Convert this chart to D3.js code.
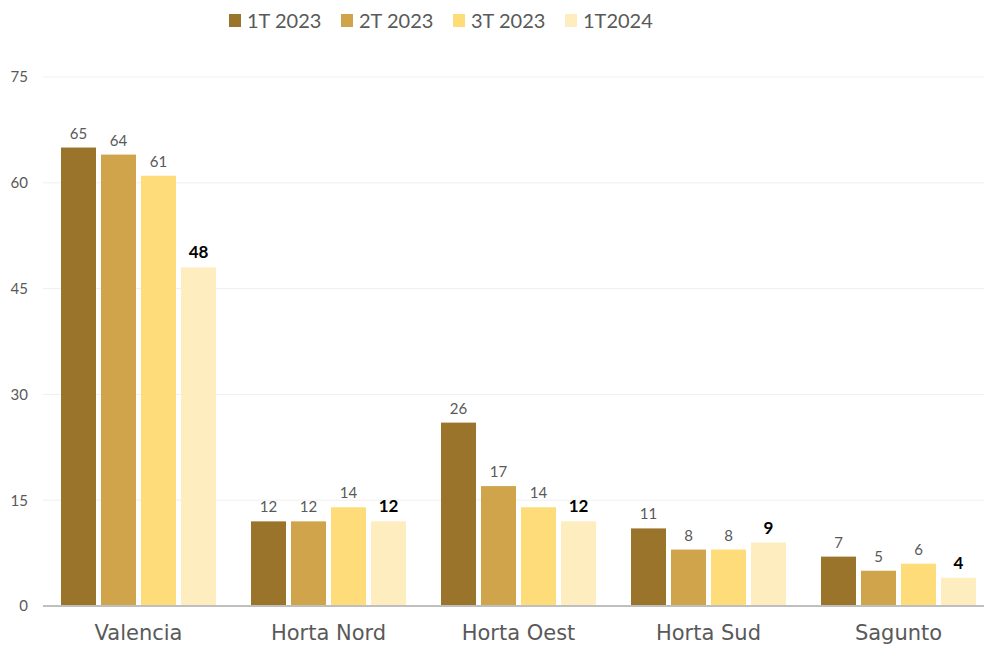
<!DOCTYPE html>
<html>
<head>
<meta charset="utf-8">
<script src="https://cdn.jsdelivr.net/npm/d3@7"></script>
<style>
  body { margin: 0; background: #fff; }
  svg { display: block; font-family: "Lato", "DejaVu Sans", sans-serif; }
</style>
</head>
<body>
<div id="chart"></div>
<script>
// Data
const categories = ["Valencia", "Horta Nord", "Horta Oest", "Horta Sud", "Sagunto"];
const seriesNames = ["1T 2023", "2T 2023", "3T 2023", "1T2024"];
const s1T2023 = [65, 12, 26, 11, 7];
const s2T2023 = [64, 12, 17, 8, 5];
const s3T2023 = [61, 14, 14, 8, 6];
const s1T2024 = [48, 12, 12, 9, 4];
const yTicks = [0, 15, 30, 45, 60, 75];

const seriesValues = [s1T2023, s2T2023, s3T2023, s1T2024];
const colors = ["#9b742c", "#cfa44b", "#fedc7a", "#feedbe"];

const width = 984, height = 646;
const margin = { top: 77, bottom: 40, left: 43.5, right: -9.5 };

const svg = d3.select("#chart").append("svg")
  .attr("width", width)
  .attr("height", height);

const x0 = d3.scaleBand()
  .domain(categories)
  .range([margin.left, width - margin.right])
  .paddingInner(0)
  .paddingOuter(0);

const x1 = d3.scaleBand()
  .domain(seriesNames)
  .range([17.5, 190 - 17.5])
  .paddingInner(5 / 40)
  .paddingOuter(0);

const y = d3.scaleLinear().domain([0, 75]).range([606, 77]);

// Gridlines
svg.append("g")
  .selectAll("line")
  .data(yTicks.filter(t => t > 0))
  .join("line")
  .attr("x1", 43)
  .attr("x2", width)
  .attr("y1", d => y(d))
  .attr("y2", d => y(d))
  .attr("stroke", "#efefef")
  .attr("stroke-width", 1);

// Y axis labels
const yAxis = svg.append("g")
  .attr("transform", "translate(28,0)")
  .call(d3.axisLeft(y).tickValues(yTicks).tickSize(0).tickPadding(0));
yAxis.select(".domain").remove();
yAxis.selectAll("text")
  .attr("fill", "#595959")
  .style("font-size", "15px")
  .style("font-family", "Lato, 'DejaVu Sans', sans-serif");

// Bars
const groups = svg.append("g")
  .selectAll("g")
  .data(categories)
  .join("g")
  .attr("transform", d => `translate(${x0(d)},0)`);

groups.each(function (cat, ci) {
  const g = d3.select(this);
  seriesNames.forEach((s, si) => {
    const v = seriesValues[si][ci];
    g.append("rect")
      .attr("x", x1(s))
      .attr("y", y(v))
      .attr("width", x1.bandwidth())
      .attr("height", y(0) - y(v))
      .attr("fill", colors[si]);
    const last = si === seriesNames.length - 1;
    g.append("text")
      .attr("x", x1(s) + x1.bandwidth() / 2)
      .attr("y", y(v) - 9)
      .attr("text-anchor", "middle")
      .attr("fill", last ? "#000" : "#595959")
      .style("font-size", last ? "17px" : "15px")
      .style("font-weight", last ? "bold" : "normal")
      .text(v);
  });
});

// Baseline
svg.append("line")
  .attr("x1", 43)
  .attr("x2", width)
  .attr("y1", y(0))
  .attr("y2", y(0))
  .attr("stroke", "#bfbfbf")
  .attr("stroke-width", 2);

// X axis labels (wide geometric look)
const xAxis = svg.append("g")
  .attr("transform", `translate(0,${y(0)})`)
  .call(d3.axisBottom(x0).tickSize(0));
xAxis.select(".domain").remove();
xAxis.selectAll("text")
  .attr("y", 34)
  .attr("dy", 0)
  .attr("fill", "#595959")
  .style("font-size", "21px")
  .style("font-family", "'DejaVu Sans', sans-serif");

// Legend
const legendX = [229, 341, 453, 565];
const legend = svg.append("g")
  .selectAll("g")
  .data(seriesNames)
  .join("g")
  .attr("transform", (d, i) => `translate(${legendX[i]},0)`);
legend.append("rect")
  .attr("x", 0)
  .attr("y", 14)
  .attr("width", 12)
  .attr("height", 13)
  .attr("fill", (d, i) => colors[i]);
legend.append("text")
  .attr("x", 18)
  .attr("y", 21)
  .attr("dy", "0.35em")
  .attr("fill", "#595959")
  .style("font-size", "20px")
  .text(d => d);
</script>
</body>
</html>
